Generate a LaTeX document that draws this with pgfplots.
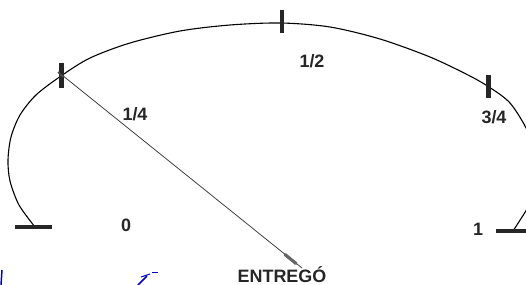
\documentclass[border=0pt]{standalone}
\usepackage{pgfplots}
\pgfplotsset{compat=1.18}
\usepackage{fontspec}
\setmainfont{Liberation Sans}
\tikzset{lbl/.style={font=\fontsize{18}{18}\selectfont\bfseries, text=black!85, anchor=base, inner sep=0pt}}
\begin{document}
\begin{tikzpicture}
\begin{axis}[
  width=526bp, height=285bp, scale only axis,
  xmin=0, xmax=526, ymin=0, ymax=285, y dir=reverse,
  hide axis, enlargelimits=false, clip=true,
]
% gauge arc
\addplot[black, line width=1.1pt, smooth, tension=0.5] coordinates {
 (35,227) (19,205) (10,181) (8,160) (11,137) (20,115) (36,95) (61,76)
 (90,58) (130,43) (180,31) (230,25) (281,23)
 (330,27) (380,39) (430,57) (468,75) (489,87) (510,103)
 (527,130) (537,160) (538,185) (530,204) (513,231)
};
% end bars
\addplot[black!85, line width=4.5pt] coordinates {(15,227) (52,227)};
\addplot[black!85, line width=4.5pt] coordinates {(496,231) (530,231)};
% tick bars
\addplot[black!85, line width=5pt] coordinates {(61.5,63) (61.5,88)};
\addplot[black!85, line width=4.5pt] coordinates {(282,10) (282,33)};
\addplot[black!85, line width=4.5pt] coordinates {(488.5,75) (488.5,98)};
% needle
\addplot[black!75, line width=0.8pt] coordinates {(62,75) (302,268)};
\addplot[black!60, line width=3.2pt, line cap=round] coordinates {(285,254.5) (296,263.5)};
\addplot[black!70, line width=1.6pt] coordinates {(58,72) (63,77)};
% blue scan marks
\addplot[blue!75!black, line width=1.5pt] coordinates {(2,270) (1,285)};
\addplot[blue!75!black, line width=1.5pt] coordinates {(147,276) (138,285)};
\addplot[blue!75!black, line width=1pt] coordinates {(141,277) (150,274)};
\addplot[blue!75!black, line width=1pt] coordinates {(152,272) (158,272)};
% labels
\node[lbl] at (axis cs:135,120) {1/4};
\node[lbl] at (axis cs:126,231) {0};
\node[lbl] at (axis cs:312,67) {1/2};
\node[lbl] at (axis cs:494,123) {3/4};
\node[lbl] at (axis cs:478,235) {1};
\node[lbl] at (axis cs:282,282) {ENTREGÓ};
\end{axis}
\pgfresetboundingbox
\path (current axis.south west) rectangle (current axis.north east);
\end{tikzpicture}
\end{document}
